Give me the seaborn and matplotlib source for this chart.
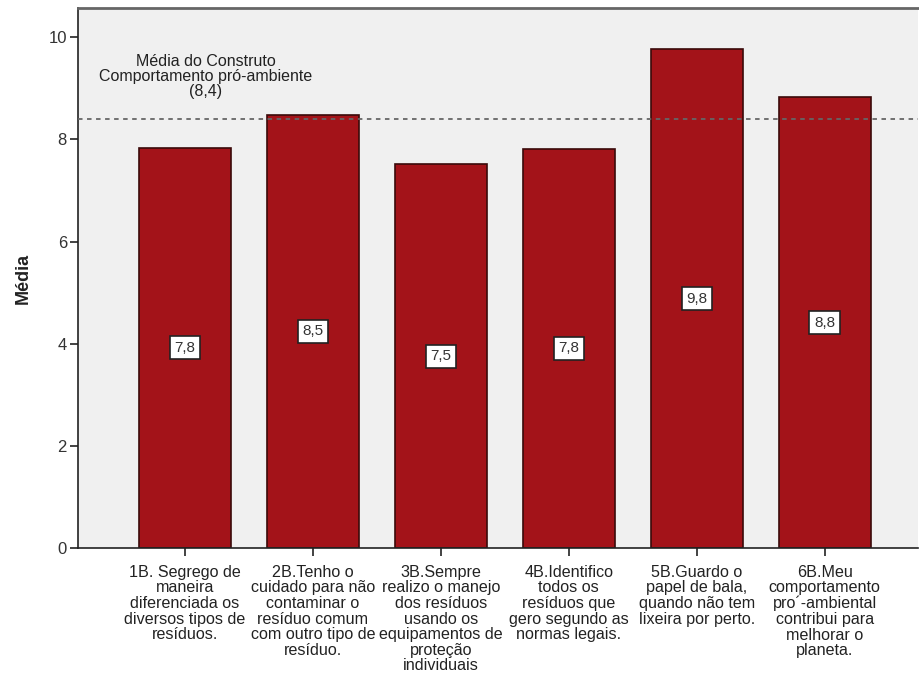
import matplotlib
matplotlib.use("Agg")
import matplotlib.pyplot as plt
import seaborn as sns
import pandas as pd

# Itens do construto e médias por item
categorias = [
    "1B. Segrego de\nmaneira\ndiferenciada os\ndiversos tipos de\nresíduos.",
    "2B.Tenho o\ncuidado para não\ncontaminar o\nresíduo comum\ncom outro tipo de\nresíduo.",
    "3B.Sempre\nrealizo o manejo\ndos resíduos\nusando os\nequipamentos de\nproteção\nindividuais",
    "4B.Identifico\ntodos os\nresíduos que\ngero segundo as\nnormas legais.",
    "5B.Guardo o\npapel de bala,\nquando não tem\nlixeira por perto.",
    "6B.Meu\ncomportamento\npro´-ambiental\ncontribui para\nmelhorar o\nplaneta.",
]
medias = [7.84, 8.48, 7.51, 7.82, 9.77, 8.83]
media_construto = 8.4
yticks = [0, 2, 4, 6, 8, 10]

df = pd.DataFrame({"item": categorias, "media": medias})

sns.set_theme(style="white")
plt.rcParams["font.family"] = ["Liberation Sans", "DejaVu Sans"]

fig = plt.figure(figsize=(9.2, 6.75), dpi=100)
ax = fig.add_axes([0.0848, 0.188, 0.913, 0.800])
ax.set_facecolor("#f0f0f0")

sns.barplot(data=df, x="item", y="media", color="#a31319", saturation=1,
            width=0.72, edgecolor="#3a0a0a", linewidth=1.2, ax=ax)

# Linha da média do construto
ax.axhline(media_construto, color="#666666", linestyle=(0, (2.5, 2.5)), linewidth=1.3, zorder=3)
ax.text(0.16, 9.23, "Média do Construto\nComportamento pró-ambiente\n(" + f"{media_construto:.1f}".replace(".", ",") + ")",
        ha="center", va="center", fontsize=11.5, color="#222222", linespacing=1.0)

# Rótulos de valor no centro de cada barra
for i, v in enumerate(medias):
    ax.text(i, v / 2, f"{v:.1f}".replace(".", ","), ha="center", va="center",
            fontsize=11, color="#333333",
            bbox=dict(boxstyle="square,pad=0.3", facecolor="white",
                      edgecolor="#222222", linewidth=1.2))

ax.set_xlim(-0.836, 5.73)
ax.set_ylim(0, 10.57)
ax.set_yticks(yticks)
ax.set_yticklabels([str(t) for t in yticks], fontsize=12, color="#333333")
ax.set_xticks(range(len(categorias)))
ax.set_xticklabels(categorias, fontsize=11.6, color="#222222", linespacing=1.05)
ax.set_xlabel("")
ax.set_ylabel("Média", fontsize=13, fontweight="bold", color="#222222", labelpad=12)

ax.tick_params(axis="both", direction="out", length=6, width=1.2, color="#222222", bottom=True, left=True)
ax.tick_params(axis="x", pad=6)
ax.tick_params(axis="y", pad=2)
for side in ["left", "bottom"]:
    ax.spines[side].set_color("#222222")
    ax.spines[side].set_linewidth(1.2)
ax.spines["top"].set_color("#666666")
ax.spines["top"].set_linewidth(2.0)
ax.spines["right"].set_visible(False)

fig.savefig("out.png", dpi=100, facecolor="white")
